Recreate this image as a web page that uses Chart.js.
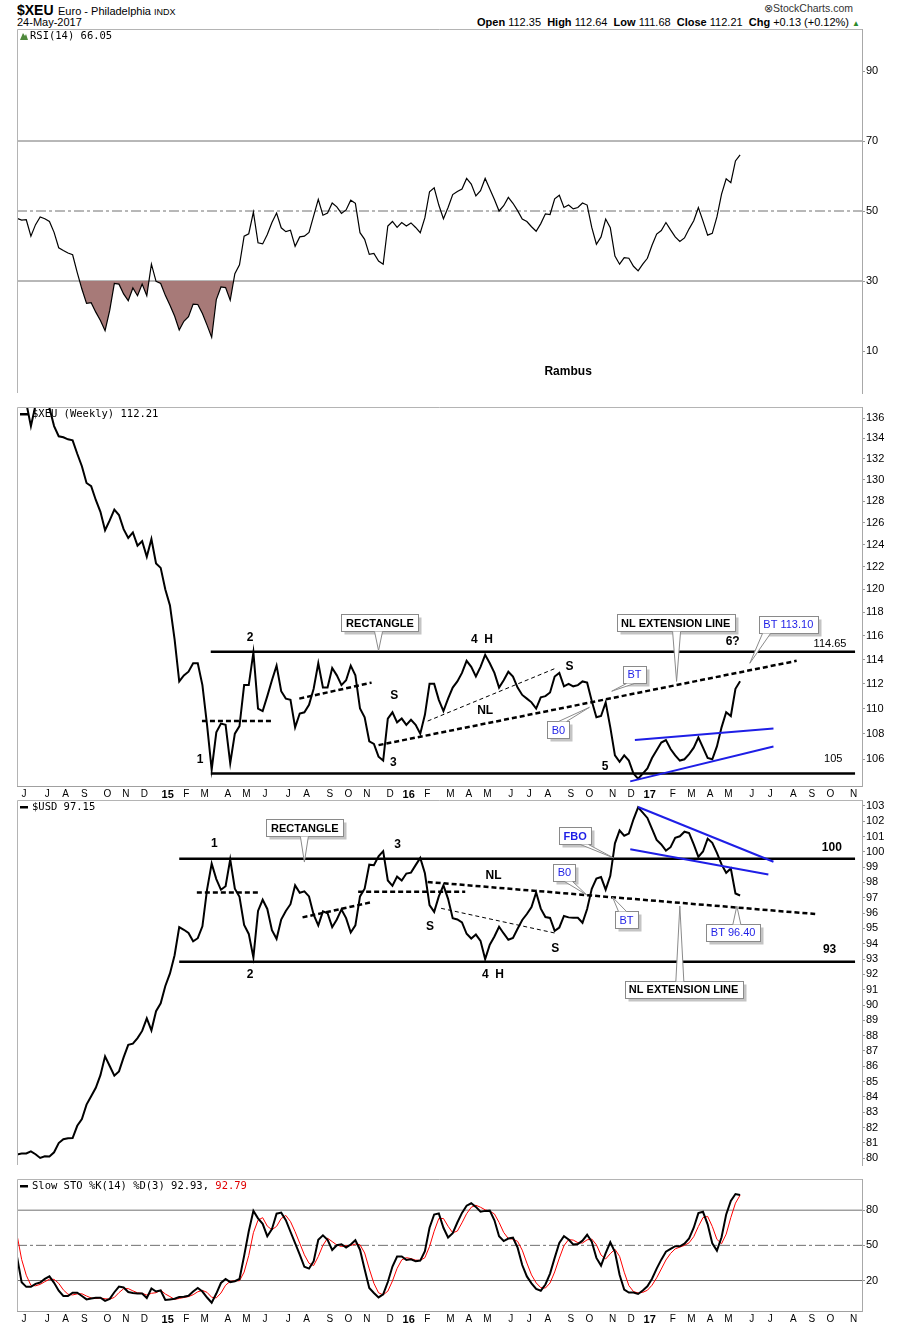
<!DOCTYPE html>
<html>
<head>
<meta charset="utf-8">
<title>$XEU weekly</title>
<script src="https://cdn.jsdelivr.net/npm/chart.js@4.4.1/dist/chart.umd.min.js"></script>
<style>
  body { margin: 0; background: #fff; }
  #page { position: relative; width: 900px; height: 1326px; overflow: hidden; font-family: "Liberation Sans", Arial, sans-serif; color: #000; }
  #page canvas { position: absolute; left: 0; }
  .hd { position: absolute; white-space: nowrap; line-height: 1; }
</style>
</head>
<body>
<div id="page">
  <div class="hd" style="left:17px;top:2px"><b style="font-size:14px">$XEU</b> <span style="font-size:11px">Euro - Philadelphia <span style="font-size:9px">INDX</span></span></div>
  <div class="hd" style="left:17px;top:17px;font-size:11px">24-May-2017</div>
  <div class="hd" style="right:47px;top:3px;font-size:10.5px;color:#333">&#8855;StockCharts.com</div>
  <div class="hd" style="right:40px;top:17px;font-size:11px"><b>Open</b> 112.35 &nbsp;<b>High</b> 112.64 &nbsp;<b>Low</b> 111.68 &nbsp;<b>Close</b> 112.21 &nbsp;<b>Chg</b> +0.13 (+0.12%) <span style="color:#2a8a2a;font-size:8px">&#9650;</span></div>
  <canvas id="cRsi" width="900" height="394" style="top:21px"></canvas>
  <canvas id="cXeu" width="900" height="401" style="top:399px"></canvas>
  <canvas id="cUsd" width="900" height="395" style="top:792px"></canvas>
  <canvas id="cSto" width="900" height="154" style="top:1171px"></canvas>
</div>
<script>
// weekly closes, first bar 30-May-2014, last bar week of 24-May-2017
const xeuClose = [
  138.0, 138.0, 137.5, 135.2, 137.3, 138.0, 138.5, 137.0, 135.2, 134.2,
  134.1, 133.9, 133.8, 132.5, 131.3, 129.7, 129.4, 128.1, 127.0, 125.3,
  126.2, 127.2, 126.7, 125.4, 124.6, 125.1, 123.9, 124.3, 122.9, 124.5,
  122.3, 121.9, 120.0, 118.6, 115.7, 112.2, 112.7, 113.0, 113.7, 113.7,
  111.9, 108.7, 105.2, 108.1, 108.8, 108.7, 105.7, 108.0, 108.6, 111.9,
  111.9, 114.6, 110.0, 109.8, 111.0, 112.3, 113.5, 111.4, 110.8, 110.7,
  108.5, 109.6, 109.7, 110.3, 111.6, 113.7, 111.7, 111.7, 113.3, 112.7,
  111.9, 112.3, 113.5, 112.7, 110.0, 109.3, 107.4, 107.2, 106.2, 105.9,
  109.2, 109.7, 108.9, 109.2, 108.7, 109.1, 108.7, 108.0, 109.5, 112.0,
  112.0, 110.7, 109.8, 110.8, 111.7, 112.2, 112.9, 113.9, 113.4, 112.6,
  113.4, 114.4, 113.7, 112.9, 111.7, 112.3, 113.0, 112.6, 111.7, 111.1,
  110.8, 110.5, 110.0, 110.9, 111.0, 111.3, 112.6, 112.9, 111.8, 112.0,
  111.8, 111.9, 112.2, 112.1, 110.6, 109.3, 109.4, 110.5, 108.5, 106.3,
  105.8, 106.3, 105.9, 104.9, 104.5, 104.9, 105.3, 106.1, 106.7, 107.3,
  107.5, 106.8, 106.3, 105.9, 106.0, 106.4, 106.9, 107.7, 106.9, 106.1,
  106.0, 107.0, 108.5, 109.7, 109.4, 111.6, 112.21
];
const rsi14 = [
  47.9, 47.4, 47.5, 42.8, 46.1, 48.3, 47.8, 47.0, 43.9, 39.5,
  38.7, 38.0, 37.5, 32.4, 27.7, 23.6, 23.8, 21.1, 18.7, 15.8,
  21.6, 29.3, 29.1, 26.3, 24.4, 28.0, 25.8, 29.1, 25.8, 34.8,
  29.9, 29.3, 25.9, 23.1, 20.0, 16.0, 18.5, 19.8, 23.4, 23.3,
  20.7, 17.4, 13.9, 24.7, 28.3, 28.1, 24.5, 32.1, 34.6, 42.8,
  43.5, 49.7, 40.9, 40.6, 43.3, 46.7, 49.4, 45.2, 44.1, 44.5,
  39.9, 42.6, 42.8, 43.9, 48.6, 53.3, 48.8, 49.4, 52.3, 51.2,
  49.3, 50.3, 53.1, 52.2, 43.8, 41.9, 37.6, 37.9, 35.7, 34.8,
  45.7, 47.0, 45.3, 46.7, 45.7, 46.6, 45.3, 43.8, 48.1, 55.5,
  56.6, 51.7, 47.8, 51.0, 54.7, 55.6, 56.3, 59.3, 57.7, 54.3,
  55.8, 59.3, 56.3, 53.3, 50.0, 51.5, 53.9, 52.2, 50.1, 47.7,
  47.0, 45.5, 44.2, 46.4, 49.2, 49.0, 53.5, 54.5, 51.0, 51.7,
  50.6, 51.0, 52.3, 51.7, 45.3, 40.5, 42.6, 47.7, 45.2, 37.1,
  34.8, 36.7, 36.5, 34.2, 32.9, 34.8, 36.5, 40.2, 43.4, 44.4,
  46.7, 44.6, 42.6, 41.3, 42.3, 44.9, 47.2, 51.0, 47.1, 43.1,
  43.6, 48.3, 54.8, 59.2, 58.1, 64.3, 66.05
];
const usdClose = [
  80.25, 80.31, 80.31, 80.45, 80.26, 80.02, 80.13, 80.12, 80.39, 80.99,
  81.24, 81.31, 81.32, 82.12, 82.56, 83.50, 84.04, 84.60, 85.42, 86.65,
  86.02, 85.39, 85.67, 86.58, 87.40, 87.48, 87.84, 88.31, 89.13, 88.35,
  89.60, 90.11, 91.24, 92.06, 93.25, 95.08, 94.91, 94.70, 94.16, 94.36,
  95.14, 97.53, 99.23, 98.22, 97.52, 97.75, 99.51, 97.59, 97.06, 95.23,
  94.64, 93.11, 96.14, 96.87, 96.27, 94.89, 94.32, 95.58, 96.14, 96.58,
  97.81, 97.33, 97.42, 97.09, 95.89, 95.20, 96.11, 95.99, 95.08, 95.58,
  96.24, 95.67, 94.73, 95.20, 97.09, 97.59, 99.16, 99.13, 99.70, 100.04,
  98.13, 97.78, 98.38, 98.13, 98.58, 98.64, 99.13, 99.60, 98.60, 96.52,
  96.08, 97.09, 97.81, 96.93, 95.67, 95.58, 95.39, 94.65, 94.34, 94.60,
  94.19, 93.00, 93.94, 94.47, 95.11, 94.67, 94.26, 94.38, 94.98, 95.55,
  95.94, 96.40, 97.35, 96.29, 95.74, 95.68, 94.84, 95.06, 95.81, 95.72,
  95.70, 95.69, 95.37, 96.27, 97.59, 98.25, 98.35, 97.53, 98.43, 100.55,
  101.39, 101.05, 101.19, 102.12, 102.90, 102.56, 102.21, 101.49, 100.77, 100.48,
  100.08, 100.30, 100.91, 101.01, 101.31, 101.22, 100.48, 99.67, 100.02, 100.86,
  100.59, 99.93, 99.18, 98.63, 98.91, 97.28, 97.15
];
const stoK = [
  40.4, 18.5, 14.6, 14.6, 17.2, 18.3, 21.4, 23.6, 18.0, 11.3,
  6.8, 6.7, 9.6, 9.6, 6.8, 3.9, 4.7, 5.3, 5.3, 2.6,
  4.3, 10.0, 14.9, 14.1, 10.2, 9.4, 8.9, 8.9, 5.1, 13.2,
  10.6, 11.5, 3.4, 3.9, 4.4, 5.9, 6.1, 7.0, 10.6, 13.6,
  10.6, 5.5, 1.1, 8.9, 17.9, 21.3, 18.6, 19.4, 21.3, 41.0,
  62.0, 79.4, 73.0, 68.4, 57.8, 63.8, 77.0, 77.9, 71.5, 61.6,
  51.8, 42.1, 31.7, 30.2, 36.5, 54.8, 58.6, 54.8, 46.1, 50.1,
  50.9, 48.2, 50.7, 54.4, 46.3, 29.7, 13.6, 9.4, 5.6, 8.3,
  18.7, 31.9, 40.4, 40.5, 37.6, 38.1, 36.4, 37.0, 45.0, 65.0,
  76.3, 77.3, 65.0, 56.7, 60.4, 69.5, 77.7, 83.8, 85.9, 82.8,
  78.7, 79.4, 79.6, 71.4, 57.8, 53.7, 55.8, 56.5, 48.0, 33.2,
  23.5, 17.6, 12.8, 11.3, 16.6, 25.9, 39.3, 52.0, 57.8, 55.0,
  50.7, 51.2, 54.0, 59.0, 53.1, 39.3, 32.7, 43.3, 52.6, 44.2,
  24.9, 12.3, 9.8, 9.8, 8.5, 11.5, 15.1, 21.5, 30.2, 37.8,
  44.6, 47.0, 49.3, 49.2, 51.4, 55.9, 65.0, 77.5, 78.6, 67.9,
  51.8, 45.5, 56.9, 76.4, 87.9, 93.8, 92.93
];
const stoD = [
  59.0, 38.0, 24.5, 15.9, 15.5, 16.7, 19.0, 21.1, 21.0, 17.6,
  12.0, 8.3, 7.7, 8.6, 8.7, 6.8, 5.1, 4.6, 5.1, 4.4,
  4.1, 5.6, 9.7, 13.0, 13.1, 11.2, 9.5, 9.1, 7.6, 9.1,
  9.6, 11.8, 8.5, 6.3, 3.9, 4.7, 5.5, 6.3, 7.9, 10.4,
  11.6, 9.9, 5.7, 5.2, 9.3, 16.0, 19.3, 19.8, 19.8, 27.2,
  41.4, 60.8, 71.5, 73.6, 66.4, 63.3, 66.2, 72.9, 75.5, 70.3,
  61.6, 51.8, 41.9, 34.7, 32.8, 40.5, 50.0, 56.1, 53.2, 50.3,
  49.0, 49.7, 49.9, 51.1, 50.5, 43.5, 29.9, 17.6, 9.5, 7.8,
  10.9, 19.6, 30.3, 37.6, 39.5, 38.7, 37.4, 37.2, 39.5, 49.0,
  62.1, 72.9, 72.9, 66.3, 60.7, 62.2, 69.2, 77.0, 82.5, 84.2,
  82.5, 80.3, 79.2, 76.8, 69.6, 61.0, 55.8, 55.3, 53.4, 45.9,
  34.9, 24.8, 18.0, 13.9, 13.6, 17.9, 27.3, 39.1, 49.7, 54.9,
  54.5, 52.3, 52.0, 54.7, 55.4, 50.5, 41.7, 38.4, 42.9, 46.7,
  40.6, 27.1, 15.7, 10.6, 9.4, 9.9, 11.7, 16.0, 22.3, 29.8,
  37.5, 43.1, 47.0, 48.5, 50.0, 52.2, 57.4, 66.1, 73.7, 74.7,
  66.1, 55.1, 51.4, 59.6, 73.7, 86.0, 92.79
];

const lastBar = Date.UTC(2017, 4, 26);
const monthLetters = ['J', 'F', 'M', 'A', 'M', 'J', 'J', 'A', 'S', 'O', 'N', 'D'];
const rsiTicks = [10, 30, 50, 70, 90];
const xeuTicks = [106, 108, 110, 112, 114, 116, 118, 120, 122, 124, 126, 128, 130, 132, 134, 136];
const usdTicks = [80, 81, 82, 83, 84, 85, 86, 87, 88, 89, 90, 91, 92, 93, 94, 95, 96, 97, 98, 99, 100, 101, 102, 103];
const stoTicks = [20, 50, 80];

// drawn lines: [week1, value1, week2, value2, kind]
const rsiLevels = [[0, 70, 183, 70, 'ref'], [0, 50, 183, 50, 'refdash'], [0, 30, 183, 30, 'ref']];
const stoLevels = [[0, 80, 183, 80, 'ref'], [0, 50, 183, 50, 'refdash'], [0, 20, 183, 20, 'ref']];
const xeuTrend = [
  [41.8, 114.65, 180.8, 114.65, 'solid'],
  [41.8, 104.9, 180.8, 104.9, 'solid'],
  [39.9, 109.0, 54.8, 109.0, 'dash'],
  [60.9, 110.8, 76.5, 112.1, 'dash'],
  [78.0, 107.1, 168.2, 113.9, 'dash'],
  [88.6, 109.0, 116.3, 113.3, 'thin'],
  [133.3, 107.5, 163.2, 108.4, 'blue'],
  [132.3, 104.3, 163.2, 107.0, 'blue']
];
const usdTrend = [
  [35.0, 99.55, 180.8, 99.55, 'solid'],
  [35.0, 92.83, 180.8, 92.83, 'solid'],
  [38.8, 97.34, 52.6, 97.34, 'dash'],
  [61.6, 95.72, 76.5, 96.71, 'dash'],
  [73.6, 97.40, 96.7, 97.40, 'dash'],
  [88.6, 98.03, 172.2, 95.94, 'dash'],
  [91.5, 96.31, 116.3, 94.68, 'thin'],
  [134.0, 102.92, 163.2, 99.35, 'blue'],
  [132.3, 100.17, 162.1, 98.52, 'blue']
];
const rsiNotes = [['Rambus', 118.9, 4.0]];
const xeuNotes = [
  ['2', 50.3, 115.8], ['1', 39.5, 105.96], ['3', 81.2, 105.7], ['S', 81.4, 111.0],
  ['4  H', 100.3, 115.7], ['S', 119.2, 113.4], ['NL', 101.0, 109.8], ['5', 126.9, 105.4],
  ['6?', 154.4, 115.5]
];
const xeuPlain = [['114.65', 175.4, 115.3], ['105', 176.1, 106.0]];
const usdNotes = [
  ['1', 42.6, 100.55], ['2', 50.3, 91.95], ['3', 82.1, 100.44], ['S', 89.1, 95.09],
  ['NL', 102.8, 98.41], ['S', 116.1, 93.69], ['4  H', 102.7, 92.0],
  ['100', 175.8, 100.28], ['93', 175.3, 93.58]
];
// callouts: [text, boxWeek, boxValue, tipWeek, tipValue, blue?, bold?]
const xeuCallouts = [
  ['RECTANGLE', 78.3, 117.1, 78.0, 114.75, false, true],
  ['NL EXTENSION LINE', 142.1, 117.1, 142.3, 112.2, false, true],
  ['BT 113.10', 166.4, 117.0, 158.1, 113.7, true, false],
  ['BT', 133.2, 112.8, 128.3, 111.4, true, false],
  ['B0', 116.8, 108.3, 123.5, 110.1, true, false]
];
const usdCallouts = [
  ['RECTANGLE', 62.1, 101.57, 62.0, 99.33, false, true],
  ['FBO', 120.4, 101.04, 128.7, 99.6, true, true],
  ['B0', 118.1, 98.66, 122.9, 97.19, true, false],
  ['BT', 131.5, 95.57, 128.5, 97.03, true, false],
  ['BT 96.40', 154.5, 94.76, 155.3, 96.46, true, false],
  ['NL EXTENSION LINE', 143.8, 91.02, 143.0, 96.46, false, true]
];

const WEEKS = 182.3;
const BLUE = '#1e1ee6';
const FONT = '"Liberation Sans", Arial, sans-serif';

const STYLES = {
  ref: { borderColor: '#707070', borderWidth: 1 },
  refdash: { borderColor: '#707070', borderWidth: 1, borderDash: [10, 3, 3, 3] },
  solid: { borderColor: '#000', borderWidth: 2.5 },
  dash: { borderColor: '#000', borderWidth: 2.5, borderDash: [5, 3] },
  thin: { borderColor: '#000', borderWidth: 1, borderDash: [4, 3] },
  blue: { borderColor: BLUE, borderWidth: 2 }
};

function series(vals) { return vals.map((v, i) => ({ x: i, y: v })); }

function segs(list, order) {
  return list.map(s => Object.assign({
    data: [{ x: s[0], y: s[1] }, { x: s[2], y: s[3] }],
    pointRadius: 0, fill: false, order: s[4] === 'blue' ? 0 : order
  }, STYLES[s[4]]));
}

// month labels sit on the first weekly bar whose monday falls in the month
function monthTicks() {
  const out = [];
  const day = 86400000;
  let y = 2014, m = 5;
  while (y < 2017 || (y === 2017 && m <= 10)) {
    const start = Date.UTC(y, m, 1) + 4 * day;
    const i = Math.ceil(156 - (lastBar - start) / (7 * day));
    out.push({ value: i + 0.5, label: m === 0 ? String(y % 100) : monthLetters[m], year: m === 0 });
    m++;
    if (m > 11) { m = 0; y++; }
  }
  return out;
}
const mticks = monthTicks();

function xScale(show) {
  return {
    type: 'linear', min: 0, max: WEEKS, display: show,
    afterBuildTicks: s => { s.ticks = mticks.map(t => ({ value: t.value })); },
    afterFit: s => { s.height = 14; },
    grid: { display: false, drawTicks: false },
    border: { display: true, color: '#a0a0a0', dash: [1, 2] },
    ticks: {
      autoSkip: false, maxRotation: 0, padding: 2, color: '#000',
      font: c => ({ family: FONT, size: mticks[c.index] && mticks[c.index].year ? 11 : 10, weight: mticks[c.index] && mticks[c.index].year ? 'bold' : 'normal' }),
      callback: (v, i) => mticks[i] ? mticks[i].label : ''
    }
  };
}

function yScale(type, min, max, ticks) {
  return {
    type, position: 'right', min, max,
    afterBuildTicks: s => { s.ticks = ticks.map(v => ({ value: v })); },
    afterFit: s => { s.width = 38; },
    grid: { display: true, drawOnChartArea: false, drawTicks: true, tickLength: 3, color: '#999' },
    border: { display: true, color: '#a8a8a8' },
    ticks: { autoSkip: false, padding: 1, color: '#000', font: { family: FONT, size: 11 }, callback: v => String(v) }
  };
}

function callout(ctx, c, xs, ys) {
  const cx = xs.getPixelForValue(c[1]), cy = ys.getPixelForValue(c[2]);
  const tx = xs.getPixelForValue(c[3]), ty = ys.getPixelForValue(c[4]);
  ctx.font = (c[6] ? 'bold ' : '') + '11px ' + FONT;
  const w = Math.round(ctx.measureText(c[0]).width + 9), h = 17;
  const l = Math.round(cx - w / 2) + 0.5, t = Math.round(cy - h / 2) + 0.5, r = l + w, b = t + h;
  let p1, p2;
  if (ty > b || ty < t) {
    const bx = Math.min(Math.max(tx, l + 7), r - 7), ey = ty > b ? b : t;
    p1 = [bx - 4, ey]; p2 = [bx + 4, ey];
  } else {
    const by = Math.min(Math.max(ty, t + 5), b - 5), ex = tx > r ? r : l;
    p1 = [ex, by - 4]; p2 = [ex, by + 4];
  }
  ctx.fillStyle = '#c4c4c4';
  ctx.fillRect(l + 3, t + 3, w, h);
  ctx.fillStyle = '#fff';
  ctx.strokeStyle = '#8a8a8a';
  ctx.lineWidth = 1;
  ctx.fillRect(l, t, w, h);
  ctx.strokeRect(l, t, w, h);
  ctx.beginPath();
  ctx.moveTo(p1[0], p1[1]); ctx.lineTo(tx, ty); ctx.lineTo(p2[0], p2[1]); ctx.closePath();
  ctx.fill();
  ctx.beginPath();
  ctx.moveTo(p1[0], p1[1]); ctx.lineTo(tx, ty); ctx.lineTo(p2[0], p2[1]);
  ctx.stroke();
  ctx.fillStyle = c[5] ? BLUE : '#000';
  ctx.textAlign = 'center';
  ctx.textBaseline = 'middle';
  ctx.fillText(c[0], cx, cy + 1);
}

const marks = {
  id: 'marks',
  afterDraw(chart, args, o) {
    const { ctx, chartArea: a, scales: { x, y } } = chart;
    ctx.save();
    ctx.strokeStyle = '#b4b4b4';
    ctx.lineWidth = 1;
    ctx.beginPath();
    ctx.moveTo(a.left + 0.5, a.bottom);
    ctx.lineTo(a.left + 0.5, a.top + 0.5);
    ctx.lineTo(a.right, a.top + 0.5);
    ctx.stroke();

    // legend line in the top-left corner
    const ly = a.top + 7;
    if (o.icon === 'mountain') {
      ctx.fillStyle = '#4f8a3c';
      ctx.beginPath();
      ctx.moveTo(a.left + 3, ly + 4); ctx.lineTo(a.left + 6, ly - 3); ctx.lineTo(a.left + 8, ly);
      ctx.lineTo(a.left + 9, ly - 2); ctx.lineTo(a.left + 11, ly + 4); ctx.closePath();
      ctx.fill();
    } else {
      ctx.fillStyle = '#000';
      ctx.fillRect(a.left + 3, ly - 1, 8, 2.5);
    }
    ctx.font = '10.5px "DejaVu Sans Mono", monospace';
    ctx.textAlign = 'left';
    ctx.textBaseline = 'middle';
    ctx.fillStyle = '#000';
    const lx = a.left + (o.icon === 'mountain' ? 13 : 15);
    ctx.fillText(o.title, lx, ly);
    if (o.titleRed) {
      ctx.fillStyle = '#e00000';
      ctx.fillText(o.titleRed, lx + ctx.measureText(o.title).width, ly);
    }

    ctx.textAlign = 'center';
    ctx.fillStyle = '#000';
    ctx.font = 'bold 12px ' + FONT;
    (o.notes || []).forEach(n => ctx.fillText(n[0], x.getPixelForValue(n[1]), y.getPixelForValue(n[2])));
    ctx.font = '11px ' + FONT;
    (o.plain || []).forEach(n => ctx.fillText(n[0], x.getPixelForValue(n[1]), y.getPixelForValue(n[2])));
    (o.callouts || []).forEach(c => callout(ctx, c, x, y));
    ctx.restore();
  }
};

function makeChart(id, datasets, scales, padBottom, markOpts) {
  return new Chart(document.getElementById(id), {
    type: 'line',
    data: { datasets },
    options: {
      responsive: false, animation: false, devicePixelRatio: 1,
      layout: { padding: { left: 17, right: 0, top: 8, bottom: padBottom } },
      plugins: { legend: { display: false }, tooltip: { enabled: false }, marks: markOpts },
      scales
    },
    plugins: [marks]
  });
}

makeChart('cRsi', [
  { data: series(rsi14), borderColor: '#000', borderWidth: 1.2, pointRadius: 0, order: 1,
    fill: { target: { value: 30 }, above: 'rgba(0,0,0,0)', below: '#a77a78' } },
  ...segs(rsiLevels, 5)
], { x: xScale(false), y: yScale('linear', -2, 102, rsiTicks) }, 8, {
  icon: 'mountain', title: 'RSI(14) 66.05', notes: rsiNotes
});

makeChart('cXeu', [
  { data: series(xeuClose), borderColor: '#000', borderWidth: 2, pointRadius: 0, fill: false, order: 1 },
  ...segs(xeuTrend, 3)
], { x: xScale(true), y: yScale('logarithmic', 103.95, 137.1, xeuTicks) }, 0, {
  icon: 'dash', title: '$XEU (Weekly) 112.21', notes: xeuNotes, plain: xeuPlain, callouts: xeuCallouts
});

makeChart('cUsd', [
  { data: series(usdClose), borderColor: '#000', borderWidth: 2, pointRadius: 0, fill: false, order: 1 },
  ...segs(usdTrend, 3)
], { x: xScale(false), y: yScale('linear', 79.56, 103.38, usdTicks) }, 8, {
  icon: 'dash', title: '$USD 97.15', notes: usdNotes, callouts: usdCallouts
});

makeChart('cSto', [
  { data: series(stoK), borderColor: '#000', borderWidth: 2, pointRadius: 0, fill: false, order: 1 },
  { data: series(stoD), borderColor: '#ff0000', borderWidth: 1, pointRadius: 0, fill: false, order: 2 },
  ...segs(stoLevels, 5)
], { x: xScale(true), y: yScale('linear', -6, 106.6, stoTicks) }, 0, {
  icon: 'dash', title: 'Slow STO %K(14) %D(3) 92.93, ', titleRed: '92.79'
});
</script>
</body>
</html>
